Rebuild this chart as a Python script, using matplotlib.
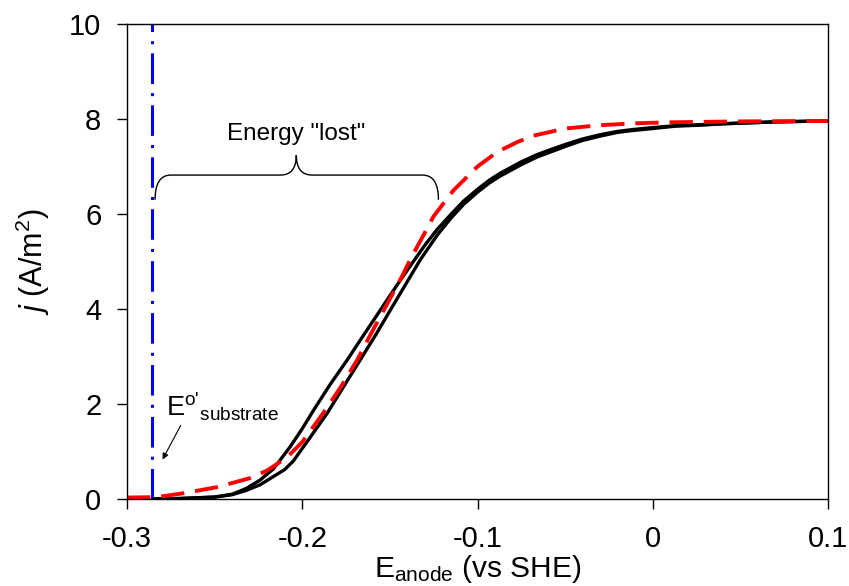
import matplotlib.pyplot as plt
from matplotlib.path import Path
from matplotlib.patches import PathPatch

plt.rcParams['font.family'] = ['Liberation Sans', 'DejaVu Sans']
plt.rcParams['mathtext.fontset'] = 'custom'
plt.rcParams['mathtext.rm'] = 'Liberation Sans'
plt.rcParams['mathtext.it'] = 'Liberation Sans:italic'

# measured curves (E anode in V vs SHE, j in A/m2)
black1_x = [-0.285, -0.27, -0.25, -0.24, -0.232, -0.224, -0.2166, -0.2126, -0.2069, -0.2, -0.1937,
            -0.1843, -0.1743, -0.165, -0.1554, -0.146, -0.1366, -0.1295, -0.1229, -0.115, -0.108,
            -0.1, -0.093, -0.087, -0.075, -0.066, -0.058, -0.0486, -0.04, -0.03,
            -0.02, -0.011, 0.0, 0.013, 0.027, 0.04, 0.055, 0.07, 0.085, 0.1]
black1_y = [0.0, 0.01, 0.04, 0.1, 0.22, 0.4, 0.63, 0.82, 1.1, 1.48, 1.86,
            2.4, 2.93, 3.45, 3.98, 4.5, 5.0, 5.37, 5.68, 6.0, 6.27,
            6.52, 6.72, 6.86, 7.1, 7.25, 7.36, 7.48, 7.58, 7.67,
            7.74, 7.78, 7.82, 7.86, 7.88, 7.9, 7.92, 7.94, 7.95, 7.96]

black2_x = [-0.285, -0.27, -0.25, -0.24, -0.232, -0.224, -0.2166, -0.21, -0.2051, -0.196, -0.1857,
            -0.1765, -0.1669, -0.158, -0.1497, -0.141, -0.1326, -0.1229, -0.115, -0.108,
            -0.1, -0.093, -0.087, -0.075, -0.066, -0.058, -0.0486, -0.04, -0.03,
            -0.02, -0.011, 0.0, 0.013, 0.027, 0.04, 0.055, 0.07, 0.085, 0.1]
black2_y = [0.0, 0.01, 0.04, 0.09, 0.18, 0.3, 0.47, 0.62, 0.8, 1.27, 1.81,
            2.36, 2.93, 3.46, 3.98, 4.52, 5.04, 5.56, 5.92, 6.2,
            6.46, 6.66, 6.8, 7.04, 7.2, 7.31, 7.44, 7.55, 7.64,
            7.72, 7.76, 7.8, 7.85, 7.87, 7.9, 7.92, 7.94, 7.95, 7.96]

red_x = [-0.3, -0.283, -0.268, -0.2486, -0.2297, -0.22, -0.2086, -0.2, -0.188, -0.178, -0.1686,
         -0.1605, -0.1537, -0.1429, -0.1383, -0.1309, -0.1251, -0.1137, -0.1, -0.0886, -0.077,
         -0.068, -0.05, -0.03, -0.01, 0.009, 0.05, 0.1]
red_y = [0.03, 0.04, 0.12, 0.25, 0.44, 0.6, 0.88, 1.2, 1.81, 2.36, 2.93,
         3.5, 3.96, 4.7, 5.05, 5.55, 5.95, 6.5, 7.0, 7.31, 7.52,
         7.65, 7.8, 7.87, 7.91, 7.93, 7.95, 7.96]

e_sub = -0.2855
xticks = [-0.3, -0.2, -0.1, 0, 0.1]
xticklabels = ['-0.3', '-0.2', '-0.1', '0', '0.1']
yticks = [0, 2, 4, 6, 8, 10]

fig = plt.figure(figsize=(8.49, 5.86), dpi=100)
ax = fig.add_axes([0.1496, 0.1485, 0.8257, 0.8105])

ax.plot([e_sub, e_sub], [0, 10], color='#0000ff', lw=2.2, dashes=(10, 3, 1, 3))
ax.plot(black1_x, black1_y, color='black', lw=2.4, solid_capstyle='round', solid_joinstyle='round')
ax.plot(black2_x, black2_y, color='black', lw=2.4, solid_capstyle='round', solid_joinstyle='round')
ax.plot(red_x, red_y, color='#ff0000', lw=2.8, dashes=(6, 2.8))

ax.set_xlim(-0.3, 0.1)
ax.set_ylim(0, 10)
ax.set_xticks(xticks)
ax.set_xticklabels(xticklabels)
ax.set_yticks(yticks)
ax.tick_params(direction='out', length=7.5, width=1, labelsize=21, pad=11)
for s in ax.spines.values():
    s.set_linewidth(1)
ax.set_xlabel(r'E$_{\mathrm{anode}}$ (vs SHE)', fontsize=21.5, labelpad=0)
ax.set_ylabel(r'$j$ (A/m$^{2}$)', fontsize=22, labelpad=12)

# curly brace for the energy gap
x0, x1, xc = -0.284, -0.1223, -0.2034
ye, ym, yt = 6.3, 6.82, 7.24
d = 0.009
verts = [(x0, ye), (x0, ym), (x0 + d, ym),
         (xc - d, ym), (xc, ym), (xc, yt),
         (xc, ym), (xc + d, ym),
         (x1 - d, ym), (x1, ym), (x1, ye)]
codes = [Path.MOVETO, Path.CURVE3, Path.CURVE3,
         Path.LINETO, Path.CURVE3, Path.CURVE3,
         Path.CURVE3, Path.CURVE3,
         Path.LINETO, Path.CURVE3, Path.CURVE3]
ax.add_patch(PathPatch(Path(verts, codes), fill=False, lw=1.0, color='black'))
ax.text(xc, 7.56, 'Energy "lost"', fontsize=17.5, ha='center', va='baseline')

ax.text(-0.2775, 1.95, r"E$^{\text{o'}}$$_{\mathrm{substrate}}$", fontsize=19.5, ha='left', va='center')
ax.annotate('', xy=(-0.2805, 0.78), xytext=(-0.2686, 1.6),
            arrowprops=dict(arrowstyle='-|>', color='black', lw=0.8, mutation_scale=9))

fig.savefig('out.png', dpi=100)
